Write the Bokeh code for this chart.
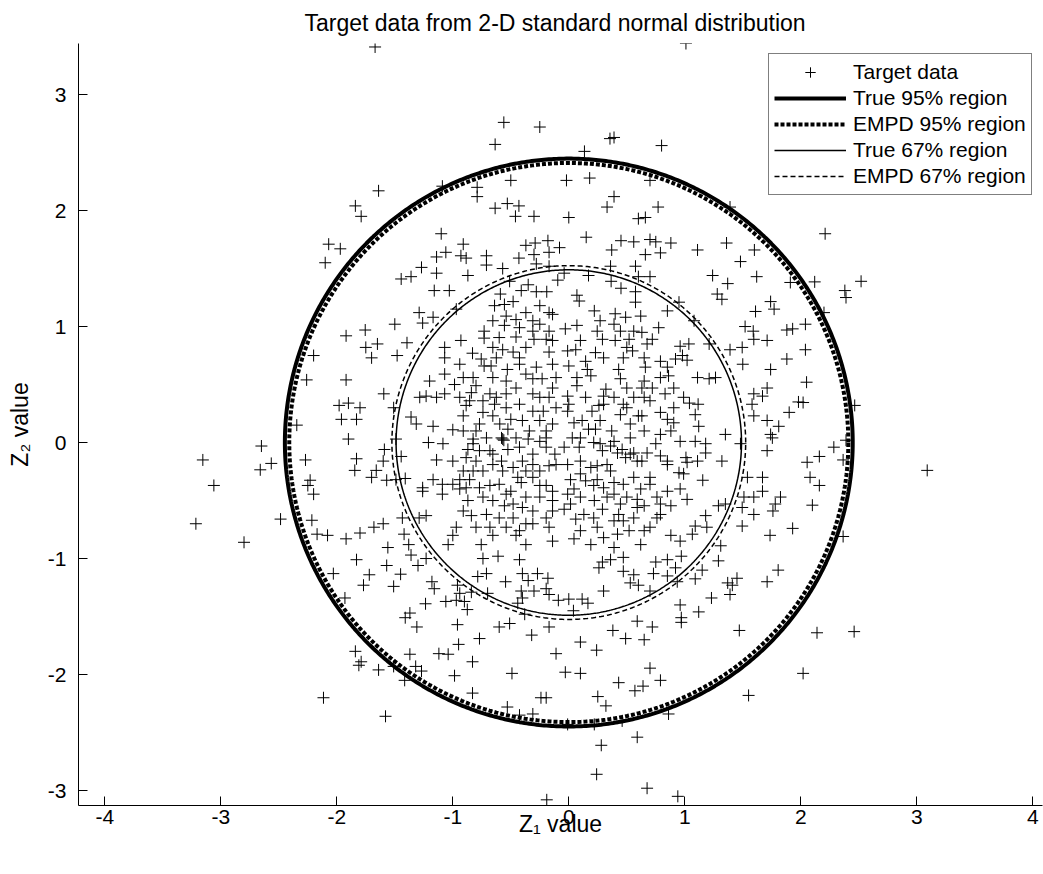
import numpy as np
from bokeh.plotting import figure
from bokeh.models import FixedTicker, Legend, LegendItem
from bokeh.embed import file_html
from bokeh.resources import INLINE

# ---- data (Z1, Z2) ----
pts_top = [(-1.67,3.41),(1.01,3.44),(-0.56,2.76),(-0.25,2.72),(-0.635,2.57),(-1.64,2.17),(-1.84,2.04),(-1.79,1.95),
    (-1.09,2.21),(-0.79,2.20),(-0.79,2.12),(-0.50,2.26),(-0.635,2.02),(-0.53,2.06),(-0.43,2.04),(-0.46,1.95),(-0.30,1.95),
    (-2.07,1.71),(-1.97,1.67),(-2.10,1.55),(-1.10,1.80),(-0.91,1.71),(-1.06,1.64),(-1.14,1.60),(-0.93,1.61),(-0.885,1.59),
    (-0.71,1.61),(-0.71,1.53),(-0.57,1.50),(-0.43,1.59),(-0.37,1.70),(-0.29,1.72),(-0.18,1.74),(-0.17,1.64),(-0.30,1.62),
    (-0.28,1.54),(-1.27,1.51),(-1.14,1.46),(-0.87,1.44),(-1.445,1.41),(-1.36,1.43),(-1.16,1.31),(-1.03,1.31),(-0.51,1.39),
    (-0.59,1.28),(-0.41,1.31),(-0.35,1.36),(-0.28,1.30),(-0.19,1.30),(-0.17,1.52),(-0.095,1.40),(-0.08,1.68)]
pts_top_right = [(0.355,2.62),(0.39,2.63),(0.80,2.56),(0.135,2.51),(-0.02,2.26),(0.18,2.28),(0.70,2.26),(0.39,2.12),
    (0.33,2.03),(0.77,2.03),(0.0,1.94),(0.60,1.93),(0.66,1.94),(1.39,2.03),(0.15,1.77),(0.37,1.66),(0.45,1.74),(0.56,1.73),
    (0.70,1.75),(0.75,1.73),(0.79,1.635),(0.66,1.62),(0.88,1.72),(1.11,1.66),(1.36,1.72),(1.60,1.66),(1.48,1.56),(1.62,1.43),
    (1.24,1.44),(1.37,1.37),(1.91,1.38),(0.36,1.52),(0.17,1.44),(0.575,1.52),(0.60,1.43),(0.70,1.43),(0.365,1.39),(0.45,1.33),
    (0.575,1.30),(0.07,1.27),(1.28,1.28),(-0.04,1.46),(2.21,1.80),(2.12,1.385),(2.38,1.31),(2.52,1.39)]
pts_far_left = [(-2.20,0.75),(-2.26,0.54),(-2.345,0.15),(-2.65,-0.03),(-3.155,-0.15),(-2.565,-0.18),(-2.66,-0.235),
    (-3.06,-0.37),(-2.27,-0.15),(-2.23,-0.325),(-2.25,-0.37),(-2.20,-0.445),(-3.215,-0.70),(-2.485,-0.66),(-2.215,-0.67),
    (-2.17,-0.79),(-2.80,-0.86)]
pts_far_right = [(2.04,1.02),(2.04,0.80),(2.05,0.52),(2.02,0.345),(2.20,1.12),(2.465,0.32),(2.39,0.02),(2.285,-0.04),
    (2.16,-0.12),(2.055,-0.17),(2.365,-0.15),(2.08,-0.30),(2.16,-0.37),(2.10,-0.54),(2.365,-0.81),(3.09,-0.24),(2.39,1.25),
    (2.14,-1.64),(2.46,-1.63),(2.02,-1.99)]
pts_bottom_right = [(1.805,-1.10),(1.71,-1.20),(1.37,-1.21),(1.45,-1.17),(1.41,-1.23),(1.39,-1.31),(1.23,-1.34),(1.12,-1.46),
    (0.96,-1.40),(0.97,-1.51),(0.97,-1.55),(1.47,-1.62),(0.59,-1.54),(0.72,-1.59),(0.38,-1.62),(0.49,-1.69),(0.65,-1.70),
    (0.10,-1.72),(0.24,-1.79),(0.70,-1.945),(0.79,-2.05),(-0.03,-1.98),(0.10,-1.99),(0.43,-2.07),(0.57,-2.14),(0.64,-2.10),
    (0.25,-2.19),(0.32,-2.27),(0.86,-2.34),(1.55,-2.18),(0.59,-2.54),(0.28,-2.61),(0.24,-2.86),(0.675,-2.98),(0.94,-3.05),
    (-0.19,-3.08),(0.0,-1.35),(0.115,-1.35),(0.165,-1.385),(0.04,-1.45),(0.30,-1.28),(0.47,-1.11),(0.56,-1.14),(0.60,-1.23),
    (0.75,-1.03),(0.85,-1.01),(0.92,-1.08),(0.97,-0.98),(0.73,-1.13),(0.85,-1.15),(0.70,-1.28),(0.935,-1.20),(1.09,-1.175),
    (1.15,-1.10),(1.29,-1.02),(0.29,-1.03),(0.36,-1.01),(0.47,-0.99),(0.26,-1.08),(0.53,-1.21),(0.46,-2.40),(0.22,-2.43),
    (-0.01,-2.43)]
pts_bottom_left = [(-1.83,-1.01),(-2.03,-1.13),(-1.72,-1.14),(-1.77,-1.23),(-1.57,-1.06),(-1.45,-1.135),(-1.51,-1.24),
    (-1.93,-1.34),(-1.36,-0.97),(-1.30,-1.06),(-1.23,-1.00),(-1.18,-1.20),(-1.16,-1.26),(-1.235,-1.39),(-1.37,-1.47),
    (-1.41,-1.51),(-1.31,-1.59),(-0.96,-1.23),(-0.94,-1.30),(-1.06,-1.37),(-0.97,-1.36),(-0.90,-1.37),(-0.875,-1.44),
    (-0.96,-1.57),(-0.95,-1.74),(-0.77,-1.69),(-0.84,-1.29),(-0.785,-1.155),(-0.71,-1.13),(-0.74,-1.00),(-0.61,-0.98),
    (-0.545,-1.20),(-0.70,-1.30),(-0.425,-1.01),(-0.40,-1.13),(-0.35,-1.19),(-0.41,-1.28),(-0.27,-1.13),(-0.18,-1.17),
    (-0.195,-1.26),(-0.17,-1.31),(-0.30,-1.28),(-0.40,-1.34),(-0.44,-1.385),(-0.09,-1.36),(-0.60,-1.59),(-0.51,-1.56),
    (-0.17,-1.59),(-0.32,-1.66),(-0.38,-1.48),(-0.11,-1.82),(-0.49,-1.99),(-0.83,-1.89),(-0.985,-2.01),(-1.12,-1.82),
    (-1.04,-1.825),(-1.37,-1.825),(-1.32,-1.93),(-1.27,-1.97),(-1.84,-1.80),(-1.79,-1.89),(-1.81,-1.92),(-1.64,-1.96),
    (-1.51,-1.93),(-1.415,-2.05),(-2.115,-2.20),(-1.58,-2.36),(-0.83,-2.16),(-0.53,-2.28),(-0.425,-2.35),(-0.31,-2.34),
    (-0.24,-2.20),(-0.195,-2.20)]
pts_center_left = [(-1.92,0.92),(-1.755,0.97),(-1.50,1.02),(-1.75,0.82),(-1.65,0.85),(-1.70,0.73),(-1.48,0.75),(-1.395,0.86),
    (-1.29,1.12),(-1.17,1.08),(-1.26,1.03),(-1.92,0.54),(-1.595,0.42),(-1.98,0.32),(-1.90,0.34),(-1.80,0.30),(-1.96,0.20),
    (-1.83,0.20),(-1.90,0.03),(-1.51,0.30),(-1.59,-0.06),(-1.83,-0.14),(-1.845,-0.24),(-1.66,-0.24),(-1.70,-0.30),
    (-1.57,-0.325),(-1.60,-0.16),(-1.445,-0.12),(-1.41,-0.31),(-1.49,-0.32),(-1.435,-0.65),(-1.60,-0.70),(-1.68,-0.73),
    (-1.80,-0.78),(-1.92,-0.83),(-2.08,-0.80),(-1.42,-0.79),(-1.23,-0.63),(-1.56,-0.905),(-1.04,-0.88),(-1.38,-0.88),
    (-1.29,-0.65),(-1.315,0.16),(-1.36,0.22),(-1.49,0.03),(-1.21,0.0),(-1.17,0.14),(-1.26,-0.39),(-1.26,-0.42),(-1.17,-0.32),
    (-1.09,-0.36),(-1.09,-0.445),(-1.14,-0.15),(-1.085,-0.01),(-1.00,0.11),(-1.00,-0.16),(-1.20,0.53),(-1.285,0.39),
    (-1.23,0.40),(-1.14,0.39),(-1.07,0.42),(-1.07,0.59),(-0.985,0.50),(-1.07,0.82),(-1.07,0.73),(-0.93,0.88),(-0.83,0.77),
    (-0.97,1.15),(-0.64,1.18),(-0.555,1.19),(-0.48,1.215),(-0.655,1.05),(-0.54,1.09),(-0.455,1.06),(-0.555,1.01),(-0.73,0.96),
    (-0.73,0.90),(-0.455,0.91),(-0.655,0.82),(-0.57,0.80),(-0.48,0.78),(-0.755,0.72),(-0.73,0.66),(-0.67,0.66),(-0.53,0.63),
    (-0.425,0.73),(-0.37,0.59),(-0.31,0.55),(-0.23,0.55),(-0.30,0.89),(-0.195,0.89),(-0.17,0.96),(-0.31,1.05),(-0.17,1.12),
    (-0.14,0.675),(-0.17,0.78),(-0.825,0.56),(-0.80,0.49),(-0.84,0.43),(-0.68,0.42),(-0.625,0.39),(-0.54,0.42),(-0.455,0.47),
    (-0.94,0.39),(-0.885,0.32),(-0.91,0.23),(-0.74,0.26),(-0.64,0.33),(-0.655,0.23),(-0.50,0.20),(-0.595,0.16),(-0.25,0.39),
    (-0.17,0.39),(-0.11,0.30),(-0.22,0.27),(-0.14,0.16),(-0.34,0.10),(-0.525,0.115),(-0.57,0.03),(-0.56,0.02),(-0.58,0.04),
    (-0.825,0.03),(-0.825,-0.01),(-0.77,-0.07),(-0.87,-0.06),(-0.68,-0.07),(-0.655,-0.10),(-0.525,-0.06),(-0.35,0.03),
    (-0.25,0.01),(-0.195,0.04),(-0.12,-0.10),(-0.17,-0.20),(-0.40,-0.16),(-0.58,-0.16),(-0.80,-0.16),(-0.885,-0.13),
    (-0.74,-0.245),(-0.57,-0.245),(-0.44,-0.30),(-0.41,-0.345),(-0.31,-0.30),(-0.37,-0.245),(-0.25,-0.245),(-0.25,-0.37),
    (-0.195,-0.37),(-0.14,-0.42),(-0.855,-0.32),(-0.94,-0.32),(-1.00,-0.36),(-0.94,-0.40),(-0.68,-0.37),(-0.50,-0.42),
    (-0.87,-0.50),(-0.74,-0.47),(-0.655,-0.50),(-0.555,-0.545),(-0.48,-0.53),(-0.40,-0.56),(-0.31,-0.59),(-0.195,-0.65),
    (-0.14,-0.59),(-0.84,-0.63),(-0.80,-0.73),(-0.97,-0.73),(-1.00,-0.80),(-0.68,-0.73),(-0.655,-0.80),(-0.54,-0.73),
    (-0.455,-0.80),(-0.37,-0.70),(-0.755,-0.88),(-0.37,-0.88),(-0.14,-0.85)]
pts_center_left_extra = [(-0.14,1.105),(-0.25,1.02),(-0.14,0.88),(-0.37,0.82),(-0.425,0.675),(-0.28,0.65),(-0.11,0.56),
    (-0.14,0.47),(-0.31,0.42),(-0.425,0.33),(-0.31,0.27),(-0.40,0.19),(-0.25,0.19),(-0.195,0.10),(-0.455,0.04),(-0.425,-0.04),
    (-0.31,-0.10),(-0.195,-0.04),(-0.11,-0.19),(-0.31,-0.19),(-0.48,-0.215),(-0.655,-0.19),(-0.825,-0.245),(-0.77,-0.39),
    (-0.60,-0.36),(-0.54,-0.445),(-0.37,-0.47),(-0.25,-0.47),(-0.14,-0.50),(-0.48,-0.65),(-0.31,-0.70),(-0.17,-0.73),
    (-0.425,-0.76),(-0.60,-0.65),(-0.71,-0.62),(-0.91,-0.59),(-0.885,-0.39),(-0.91,-0.245),(-0.71,0.04),(-0.80,0.10),
    (-0.91,0.10),(-0.77,0.16),(-0.855,0.36),(-0.74,0.36),(-0.54,0.30),(-0.54,0.53),(-0.655,0.56),(-0.91,0.56),(-0.94,0.675),
    (-0.625,0.73),(-0.60,0.905),(-0.425,0.99),(-0.31,0.96),(-0.37,1.12),(-0.25,1.18)]
pts_center_right = [(1.61,1.13),(1.77,1.15),(1.74,1.215),(1.32,1.235),(1.52,1.00),(1.59,0.96),(1.595,0.89),(1.71,0.88),
    (1.88,0.97),(1.93,0.98),(1.88,0.72),(1.74,0.63),(1.495,0.82),(1.50,0.675),(1.39,0.80),(1.71,0.47),(1.595,0.42),(1.67,0.40),
    (1.58,0.33),(1.90,0.26),(1.98,0.35),(1.595,0.23),(1.71,0.19),(1.81,0.14),(1.74,0.07),(1.755,0.04),(1.71,-0.07),(1.48,-0.01),
    (1.35,0.07),(1.32,-0.16),(1.18,-0.01),(1.18,-0.09),(1.09,0.01),(1.155,-0.325),(1.54,-0.30),(1.67,-0.30),(1.67,-0.42),
    (1.595,-0.47),(1.51,-0.47),(1.825,-0.47),(1.78,-0.53),(1.76,-0.59),(1.595,-0.62),(1.495,-0.56),(1.35,-0.53),(1.29,-0.545),
    (1.495,-0.72),(1.93,-0.74),(1.735,-0.80),(1.18,-0.63),(1.19,-0.73),(1.09,-0.72),(1.065,-0.79),(1.31,-0.89),(0.96,-0.85),
    (0.88,-0.80),(1.11,0.56),(1.21,0.55),(1.265,0.56),(1.04,0.34),(1.115,0.33),(1.09,0.24),(1.12,0.14),(0.96,0.83),(1.035,0.85),
    (0.98,0.75),(1.02,0.71),(0.92,0.72),(1.21,0.85),(1.08,1.05),(0.95,1.21),(0.85,1.135),(0.775,0.99),(0.72,0.89),(0.66,0.65),
    (0.79,0.56),(0.86,0.575),(0.72,0.47),(0.83,0.42),(0.65,0.39),(0.70,0.36),(0.79,0.26),(0.85,0.20),(0.905,0.17),(0.63,0.23),
    (0.79,0.07),(0.75,-0.01),(0.53,0.04),(0.39,0.01),(0.29,-0.07),(0.42,-0.09),(0.56,-0.09),(0.63,-0.16),(0.49,-0.13),
    (0.85,-0.16),(1.01,-0.13),(1.02,-0.17),(1.11,-0.16),(0.95,-0.26),(0.99,-0.27),(0.70,-0.30),(0.56,-0.30),(0.36,-0.245),
    (0.245,-0.20),(0.70,-0.36),(0.85,-0.42),(0.96,-0.40),(1.02,-0.49),(0.88,-0.545),(0.79,-0.62),(0.65,-0.545),(0.59,-0.49),
    (0.50,-0.47),(0.39,-0.445),(0.30,-0.39),(0.215,-0.37),(0.145,-0.33),(0.045,-0.40),(-0.01,-0.19),(0.10,-0.16),(0.09,-0.04),
    (0.27,-0.01),(0.43,-0.62),(0.47,-0.675),(0.52,-0.76),(0.62,-0.88),(0.70,-0.73),(0.29,-0.575),(0.22,-0.50),(0.13,-0.62),
    (0.06,-0.66),(0.245,-0.73),(0.19,-0.88),(0.045,-0.83),(0.30,-0.82),(0.39,-0.905),(-0.01,-0.445),(-0.04,-0.575),
    (0.09,1.22),(0.22,1.135),(0.40,1.11),(0.575,1.21),(0.62,1.09),(0.49,1.08),(0.27,1.05),(0.07,1.01),(-0.03,0.98),(0.29,0.89),
    (0.40,0.88),(0.50,0.82),(0.63,0.95),(0.06,0.80),(0.23,0.775),(0.30,0.73),(0.47,0.73),(0.0,0.66),(0.16,0.63),(0.43,0.63),
    (0.445,0.55),(0.32,0.46),(0.50,0.47),(0.63,0.47),(0.07,0.49),(-0.01,0.40),(0.145,0.39),(0.30,0.33),(0.20,0.27),(-0.01,0.27),
    (0.115,0.19),(0.27,0.19),(0.445,0.24),(0.50,0.30),(0.60,0.23),(0.37,0.10),(0.23,0.115),(0.03,0.04),(-0.04,-0.04)]
pts_center_right_extra = [(0.52,0.89),(0.55,0.79),(0.245,0.96),(0.10,0.88),(-0.01,0.79),(0.145,0.70),(0.07,0.56),(0.19,0.575),
    (0.30,0.40),(0.26,0.32),(0.0,0.33),(0.045,0.17),(0.17,0.115),(0.10,0.04),(0.215,0.0),(0.36,-0.03),(0.46,-0.06),(0.53,-0.10),
    (0.59,-0.16),(0.675,-0.09),(0.79,-0.115),(0.85,-0.19),(0.33,-0.19),(0.19,-0.215),(0.10,-0.27),(0.015,-0.32),(0.245,-0.32),
    (0.39,-0.345),(0.47,-0.36),(0.62,-0.40),(0.76,-0.47),(0.79,-0.53),(0.59,-0.56),(0.445,-0.53),(0.33,-0.47),(0.10,-0.47),
    (0.015,-0.53),(0.215,-0.65),(0.39,-0.675),(0.56,-0.65),(0.76,-0.65),(0.65,-0.76),(0.42,-0.79),(0.10,-0.76),(0.39,1.02),
    (0.445,0.96),(0.56,0.96),(0.675,0.85),(0.65,0.73),(0.79,0.70),(0.85,0.65),(0.65,0.53),(0.905,0.47),(0.99,0.39),(0.905,0.30),
    (0.56,0.39),(0.47,0.33),(0.39,0.39),(0.53,0.16),(0.65,0.10),(0.88,0.10),(0.96,0.01)]

# region radii (in Z units)
true_r95 = 2.4477
empd_r95 = 2.41
true_r67 = 1.489
empd_r67 = 1.525

x_ticks = [-4, -3, -2, -1, 0, 1, 2, 3, 4]
y_ticks = [-3, -2, -1, 0, 1, 2, 3]

points = (pts_top + pts_top_right + pts_far_left + pts_far_right + pts_bottom_right + pts_bottom_left +
          pts_center_left + pts_center_left_extra + pts_center_right + pts_center_right_extra)
z1 = [p_[0] for p_ in points]
z2 = [p_[1] for p_ in points]

theta = np.linspace(0, 2 * np.pi, 721)

FONT = "Liberation Sans"
p = figure(width=1043, height=866, x_range=(-4.227, 4.084), y_range=(-3.129, 3.44),
           output_backend="svg", toolbar_location=None,
           min_border_left=78, min_border_right=1, min_border_top=43, min_border_bottom=61,
           title="Target data from 2-D standard normal distribution")
p.title.align = "left"
p.title.offset = 226
p.title.text_font = FONT
p.title.text_font_size = "23px"
p.title.text_font_style = "normal"
p.title.text_color = "black"
p.title.standoff = 15
p.grid.visible = False
p.outline_line_color = None
p.background_fill_color = "white"
p.border_fill_color = "white"

for ax in (p.xaxis[0], p.yaxis[0]):
    ax.major_tick_in = 9
    ax.major_tick_out = 0
    ax.minor_tick_line_color = None
    ax.axis_line_color = "black"
    ax.major_tick_line_color = "black"
    ax.major_label_text_font = FONT
    ax.major_label_text_font_size = "21px"
    ax.major_label_text_color = "black"
    ax.axis_label_text_font = FONT
    ax.axis_label_text_font_size = "23px"
    ax.axis_label_text_font_style = "normal"
    ax.axis_label_text_color = "black"
p.xaxis.ticker = FixedTicker(ticks=x_ticks)
p.yaxis.ticker = FixedTicker(ticks=y_ticks)
p.xaxis.major_label_overrides = {t: str(t) for t in x_ticks}
p.yaxis.major_label_overrides = {t: str(t) for t in y_ticks}
p.xaxis.axis_label = "Z\u2081 value"
p.yaxis.axis_label = "Z\u2082 value"
p.xaxis.major_label_standoff = 4
p.xaxis.axis_label_standoff = -16
p.yaxis.major_label_standoff = 12
p.yaxis.axis_label_standoff = 12

r_pts = p.scatter(z1, z2, marker="cross", size=12, line_color="black", line_width=1)
r_t95 = p.line(true_r95 * np.cos(theta), true_r95 * np.sin(theta), line_color="black", line_width=4)
r_e95 = p.line(empd_r95 * np.cos(theta), empd_r95 * np.sin(theta), line_color="black", line_width=4, line_dash="4 2")
r_t67 = p.line(true_r67 * np.cos(theta), true_r67 * np.sin(theta), line_color="black", line_width=1.5)
r_e67 = p.line(empd_r67 * np.cos(theta), empd_r67 * np.sin(theta), line_color="black", line_width=1.5, line_dash="5 3")

legend = Legend(items=[
    LegendItem(label="Target data", renderers=[r_pts]),
    LegendItem(label="True 95% region", renderers=[r_t95]),
    LegendItem(label="EMPD 95% region", renderers=[r_e95]),
    LegendItem(label="True 67% region", renderers=[r_t67]),
    LegendItem(label="EMPD 67% region", renderers=[r_e67]),
], location=(690, 610))
legend.label_text_font = FONT
legend.label_text_font_size = "21px"
legend.label_text_color = "black"
legend.glyph_width = 72
legend.glyph_height = 26
legend.label_height = 26
legend.label_standoff = 7
legend.spacing = 0
legend.padding = 5
legend.margin = 0
legend.border_line_color = "black"
legend.border_line_width = 1
legend.background_fill_color = "white"
legend.background_fill_alpha = 1.0
p.add_layout(legend)

open("out.html", "w").write(file_html(p, INLINE))
